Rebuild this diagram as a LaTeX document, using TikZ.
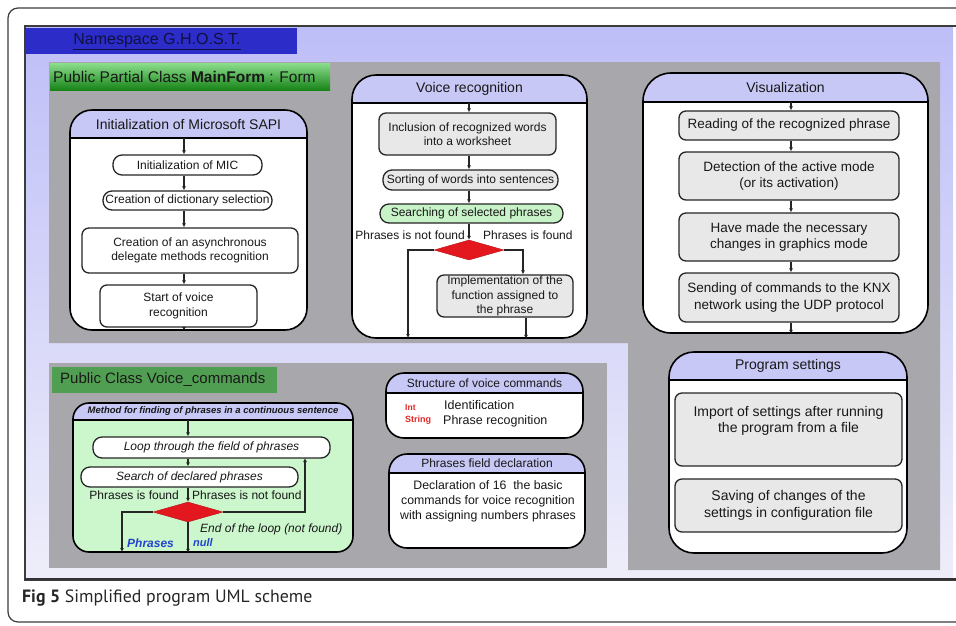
\documentclass[tikz,border=0pt]{standalone}
\usepackage{fontspec}
\setmainfont{Liberation Sans}
\newfontfamily\capfont{PT Sans}
\usetikzlibrary{shapes.geometric,arrows.meta}
\definecolor{lavtop}{RGB}{190,190,248}
\definecolor{lavbot}{RGB}{238,238,250}
\definecolor{nsblue}{RGB}{44,44,200}
\definecolor{nstext}{RGB}{16,16,64}
\definecolor{panel}{RGB}{168,168,172}
\definecolor{hdr}{RGB}{200,200,246}
\definecolor{boxgray}{RGB}{232,232,232}
\definecolor{srchgreen}{RGB}{200,242,200}
\definecolor{mgreen}{RGB}{204,246,204}
\definecolor{vcgreen}{RGB}{80,158,82}
\definecolor{gtop}{RGB}{140,222,140}
\definecolor{gbot}{RGB}{24,132,24}
\definecolor{diared}{RGB}{226,24,30}
\definecolor{txt}{RGB}{24,24,24}
\definecolor{blu}{RGB}{34,68,204}
\definecolor{redtxt}{RGB}{226,40,40}
\definecolor{framec}{RGB}{60,60,60}
\newcommand\fsz[2]{\fontsize{#1}{#2}\selectfont}
\tikzset{
  bigbox/.style 2 args={draw=black, line width=1.6pt, fill=white, rounded corners=#2, inner sep=0pt,
    path picture={\fill[hdr, sharp corners] (path picture bounding box.north west) rectangle ([yshift=-#1]path picture bounding box.north east);
      \draw[line width=1.6pt, sharp corners] ([yshift=-#1]path picture bounding box.north west) -- ([yshift=-#1]path picture bounding box.north east);}},
  ttl/.style={font=\fsz{14}{16}, text=txt, inner sep=0pt},
  ibox/.style={draw=black!85, line width=1.3pt, rounded corners=7pt, align=center, font=\fsz{12}{14.5}, text=txt, inner sep=0pt},
  pill/.style={ibox, rounded corners=9pt},
  lbl/.style={font=\fsz{12}{14}, text=txt, inner sep=0pt},
  arr/.style={draw=black!85, line width=1.3pt, -{Latex[length=4pt,width=4pt]}},
  dia/.style={diamond, fill=diared, draw=diared!80!black, line width=0.4pt, inner sep=0pt, minimum width=70pt, minimum height=20pt},
}
\begin{document}
\begin{tikzpicture}[x=1pt,y=-1pt]
\useasboundingbox (0,0) rectangle (956,625);
% outer frame
\draw[framec, line width=1.2pt, rounded corners=10pt] (957,622) -- (8,622) -- (8,8) -- (957,8);
% picture background
\shade[top color=lavtop, bottom color=lavbot] (25,26) rectangle (953,580);
\draw[framec, line width=1.5pt] (957,26) -- (25,26) -- (25,580) -- (957,580);
\draw[black!80, line width=2.5pt] (25,579) -- (957,579);
% namespace banner
\fill[nsblue] (26,28) rectangle (297,54);
\node[font=\fsz{16}{18}, text=nstext, inner sep=0pt] (ns) at (157,42) {\underline{Namespace G.H.O.S.T.}};
% gray panels
\fill[panel] (49,62) -- (940,62) -- (940,570) -- (628,570) -- (628,343) -- (49,343) -- cycle;
\fill[panel] (49,363) rectangle (607,568);
% MainForm header
\shade[top color=gtop, bottom color=gbot] (50,63) rectangle (330,90);
\node[anchor=west, font=\fsz{15.5}{17}, text=black!90, inner sep=0pt] (mf) at (53,77) {Public Partial Class \textbf{MainForm} : Form};
% Voice_commands header
\fill[vcgreen] (52,367) rectangle (277,393);
\node[anchor=west, font=\fsz{15}{17}, text=black!90, inner sep=0pt] (vc) at (60,380) {Public Class Voice\_commands};

% ---------- SAPI ----------
\node[bigbox={28pt}{22pt}, minimum width=237pt, minimum height=220pt] (sapi) at (188.5,220) {};
\node[ttl] (sapit) at (188.5,124) {Initialization of Microsoft SAPI};
\node[pill, fill=white, minimum width=149pt, minimum height=20pt] (mic) at (187.5,165) {Initialization of MIC};
\node[pill, fill=white, minimum width=169pt, minimum height=19pt] (dict) at (187.5,200.5) {Creation of dictionary selection};
\node[ibox, fill=white, minimum width=216pt, minimum height=45pt] (async) at (190,250.5) {Creation of an asynchronous\\delegate methods recognition};
\node[ibox, fill=white, minimum width=157pt, minimum height=42pt] (start) at (178.5,306) {Start of voice\\recognition};
\coordinate (sapiH) at (184,138);
\draw[arr] (sapiH) -- (sapiH |- mic.north);
\draw[arr] (sapiH |- mic.south) -- (sapiH |- dict.north);
\draw[arr] (sapiH |- dict.south) -- (sapiH |- async.north);
\draw[arr] (sapiH |- async.south) -- (sapiH |- start.north);
\draw[arr] (sapiH |- start.south) -- (sapiH |- sapi.south);

% ---------- Voice recognition ----------
\node[bigbox={28pt}{24pt}, minimum width=235pt, minimum height=263pt] (voice) at (469.5,206.5) {};
\node[ttl] (voicet) at (469.5,89) {Voice recognition};
\node[ibox, fill=boxgray, minimum width=177pt, minimum height=42pt] (incl) at (467.5,134) {Inclusion of recognized words\\into a worksheet};
\node[pill, fill=boxgray, minimum width=175pt, minimum height=20pt] (sort) at (470.5,180) {Sorting of words into sentences};
\node[pill, fill=srchgreen, minimum width=183pt, minimum height=19pt] (search) at (471.5,213.5) {Searching of selected phrases};
\node[dia] (vd) at (469,250) {};
\node[lbl, anchor=east] (vnf) at (465,235) {Phrases is not found};
\node[lbl, anchor=west] (vf) at (483,235) {Phrases is found};
\node[ibox, fill=boxgray, minimum width=136pt, minimum height=42pt, font=\fsz{12}{14.5}] (impl) at (505,296) {Implementation of the\\function assigned to\\the phrase};
\coordinate (vH) at (469,103);
\draw[arr] (vH) -- (vH |- incl.north);
\draw[arr] (vH |- incl.south) -- (vH |- sort.north);
\draw[arr] (vH |- sort.south) -- (vH |- search.north);
\draw[arr] (vH |- search.south) -- (vd.north);
\coordinate (vL) at (408,338);
\draw[arr] (vd.west) -| (vL);
\coordinate (iT) at ([xshift=18pt]impl.north);
\draw[arr] (vd.east) -| (iT);
\coordinate (iB) at ([xshift=21pt]impl.south);
\draw[arr] (iB) -- (iB |- voice.south);

% ---------- Visualization ----------
\node[bigbox={29pt}{28pt}, minimum width=285pt, minimum height=260pt] (vis) at (785.5,203) {};
\node[ttl] (vist) at (785.5,87.5) {Visualization};
\node[ibox, fill=boxgray, minimum width=220pt, minimum height=29pt, font=\fsz{13.5}{16.5}] (read) at (789,125.5) {Reading of the recognized phrase};
\node[ibox, fill=boxgray, minimum width=220pt, minimum height=48pt, font=\fsz{13.5}{16.5}] (detect) at (789,176) {Detection of the active mode\\(or its activation)};
\node[ibox, fill=boxgray, minimum width=220pt, minimum height=48pt, font=\fsz{13.5}{16.5}] (have) at (789,237) {Have made the necessary\\changes in graphics mode};
\node[ibox, fill=boxgray, minimum width=220pt, minimum height=49pt, font=\fsz{13.5}{16.5}] (send) at (789,297.5) {Sending of commands to the KNX\\network using the UDP protocol};
\coordinate (visH) at (791,102);
\draw[arr] (visH) -- (visH |- read.north);
\draw[arr] (visH |- read.south) -- (visH |- detect.north);
\draw[arr] (visH |- detect.south) -- (visH |- have.north);
\draw[arr] (visH |- have.south) -- (visH |- send.north);
\draw[arr] (visH |- send.south) -- (visH |- vis.south);

% ---------- Program settings ----------
\node[bigbox={28pt}{25pt}, minimum width=238pt, minimum height=201pt] (prog) at (788,452.5) {};
\node[ttl] (progt) at (788,366) {Program settings};
\node[ibox, fill=boxgray, minimum width=227pt, minimum height=73pt] (import) at (788.5,429.5) {};
\node[lbl, font=\fsz{14}{16.5}, align=center] (importt) at (788.5,421) {Import of settings after running\\the program from a file};
\node[ibox, fill=boxgray, minimum width=227pt, minimum height=53pt, font=\fsz{14}{16.5}] (save) at (788.5,505.5) {Saving of changes of the\\settings in configuration file};

% ---------- Method box ----------
\node[bigbox={17pt}{16pt}, fill=mgreen, minimum width=280pt, minimum height=149pt] (method) at (213,477.5) {};
\node[font=\fsz{9.5}{11}\bfseries\itshape, text=txt, inner sep=0pt] (methodt) at (213,411.5) {Method for finding of phrases in a continuous sentence};
\node[pill, fill=white, minimum width=237pt, minimum height=21pt, font=\fsz{12}{14}\itshape] (loop) at (211.5,447.5) {Loop through the field of phrases};
\node[pill, fill=white, minimum width=217pt, minimum height=20pt, font=\fsz{12}{14}\itshape] (srch) at (189.5,477) {Search of declared phrases};
\node[lbl, anchor=east] (mf1) at (179,495) {Phrases is found};
\node[lbl, anchor=west] (mf2) at (192,495) {Phrases is not found};
\node[dia] (md) at (188,512) {};
\node[lbl, anchor=west, font=\fsz{12}{14}\itshape] (eol) at (200,529) {End of the loop (not found)};
\node[lbl, anchor=west, font=\fsz{12}{14}\bfseries\itshape, text=blu] (ph) at (127,543) {Phrases};
\node[lbl, anchor=west, font=\fsz{11}{13}\bfseries\itshape, text=blu] (nul) at (193,543) {null};
\coordinate (mH) at (188,420);
\draw[arr] (mH) -- (mH |- loop.north);
\draw[arr] (mH |- loop.south) -- (mH |- srch.north);
\draw[arr] (mH |- srch.south) -- (md.north);
\coordinate (mL) at (122,552);
\draw[arr] (md.west) -| (mL);
\coordinate (mR) at (305,458);
\draw[arr] (md.east) -| (mR);
\draw[arr] (md.south) -- (md.south |- method.south);

% ---------- Structure of voice commands ----------
\node[bigbox={20pt}{18pt}, minimum width=197pt, minimum height=65pt] (struct) at (484.5,405.5) {};
\node[ttl, font=\fsz{12}{14}] (structt) at (484.5,383) {Structure of voice commands};
\node[anchor=west, font=\fsz{8.5}{9}\bfseries, text=redtxt, inner sep=0pt] (int) at (405,408) {Int};
\node[anchor=west, font=\fsz{9}{10}\bfseries, text=redtxt, inner sep=0pt] (str) at (405,420) {String};
\node[lbl, anchor=west, font=\fsz{12.5}{14}] (ident) at (444,405) {Identification};
\node[lbl, anchor=west, font=\fsz{12.5}{14}] (phrec) at (443,421) {Phrase recognition};

% ---------- Phrases field declaration ----------
\node[bigbox={19pt}{18pt}, minimum width=196pt, minimum height=94pt] (field) at (487,501) {};
\node[ttl, font=\fsz{12}{14}] (fieldt) at (487,463.5) {Phrases field declaration};
\node[lbl, align=center, font=\fsz{12.3}{15}] (fieldx) at (488,501) {Declaration of 16~ the basic\\commands for voice recognition\\with assigning numbers phrases};

% caption
\node[anchor=west, font=\capfont\fsz{17.8}{20}, text=black!85, inner sep=0pt] (cap) at (22,598) {\textbf{Fig 5} Simplified program UML scheme};
\end{tikzpicture}
\end{document}
